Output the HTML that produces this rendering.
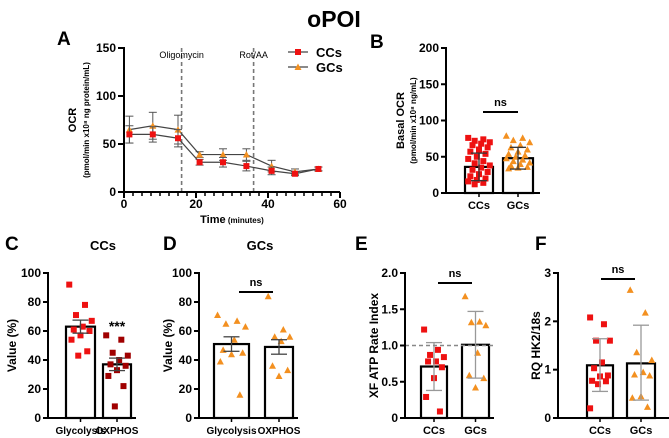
<!DOCTYPE html>
<html><head><meta charset="utf-8"><style>
body{margin:0;background:#fff}
svg{display:block;font-family:"Liberation Sans",Arial,sans-serif}
</style></head><body>
<svg id="fig" width="669" height="438" viewBox="0 0 669 438">
<text x="334" y="27" text-anchor="middle" font-size="23" font-weight="bold">oPOI</text>
</svg>
<script>
// Panel A data
const aTimes=[1.5,8,15,21,27.5,34,41,47.5,54];
const aCC=[60,60,56,31,31,27,22,19,24];
const aCCerr=[9,8,9,3,5,5,4,2,2];
const aGC=[65,69,65,39,39,39,27,21,24];
const aGCerr=[14,14,15,3,6,6,6,3,2];
const aXTicks=[0,20,40,60];
const aYTicks=[0,50,100,150];
// Panel B
const bCats=['CCs','GCs'];
const bMeans=[36,48];
const bSD=[19,15];
const bCCpts=[76,74,72,70,68,66,63,60,57,54,50,47,44,41,38,35,32,29,26,23,20,18,16,14,12];
const bGCpts=[79,76,73,70,66,63,60,57,54,52,50,48,46,44,42,40,38,36,35,34];
const bYTicks=[0,50,100,150,200];
// Panel C
const cCats=['Glycolysis','OXPHOS'];
const cMeans=[63,37];
const cSEM=[4.5,4.3];
const cGly=[92,78,71,67,63,61,60,57,54,46,43];
const cOx=[57,54,45,43,40,37,36,33,29,22,8];
// Panel D
const dMeans=[51,49];
const dSEM=[5,5];
const dGly=[71,67,65,63,54,47,45,44,39,16];
const dOx=[84,61,56,56,53,36,33,29];
const pctTicks=[0,20,40,60,80,100];
// Panel E
const eMeans=[0.71,1.01];
const eLo=[0.38,0.55];
const eHi=[1.04,1.47];
const eCC=[1.22,0.94,0.87,0.84,0.78,0.78,0.70,0.55,0.29,0.09];
const eGC=[1.68,1.33,1.32,1.28,0.90,0.59,0.55,0.42];
const eTicks=[0,0.5,1.0,1.5,2.0];
const eTickLabels=['0','0.5','1.0','1.5','2.0'];
// Panel F
const fMeans=[1.09,1.13];
const fLo=[0.55,0.37];
const fHi=[1.64,1.92];
const fCC=[2.08,1.94,1.6,1.6,1.15,1.03,0.88,0.86,0.77,0.76,0.70,0.20];
const fGC=[2.65,2.18,1.36,1.2,0.95,0.9,0.88,0.45,0.42,0.23];
const fTicks=[0,1,2,3];

const svg=document.getElementById('fig');
const NS='http://www.w3.org/2000/svg';
function el(tag,attrs,parent,text){const e=document.createElementNS(NS,tag);for(const k in attrs)e.setAttribute(k,attrs[k]);if(text!==undefined)e.textContent=text;(parent||svg).appendChild(e);return e;}
function line(x1,y1,x2,y2,stroke,w,g,dash){const l=el('line',{x1,y1,x2,y2,stroke,'stroke-width':w},g);if(dash)l.setAttribute('stroke-dasharray',dash);return l;}
function sq(g,x,y,c){return el('rect',{x:x-3,y:y-3,width:6,height:6,fill:c},g);}
function tri(g,x,y,c){return el('polygon',{points:`${x},${y-3.5} ${x+3.5},${y+3} ${x-3.5},${y+3}`,fill:c},g);}
function text(g,x,y,s,size,anchor,bold,rot){const t=el('text',{x,y,'font-size':size,'text-anchor':anchor||'middle','font-weight':bold?'bold':'normal'},g,s);if(rot)t.setAttribute('transform',`rotate(-90 ${x} ${y})`);return t;}
function group(name){const g=el('g',{},svg);return g;}

function barPanel(o){
  const g=group(o.name);
  const ys=v=>o.y0-(v-o.min)/(o.max-o.min)*(o.y0-o.y1);
  text(g,o.letterX,o.letterY,o.letter,19,'start',true);
  if(o.title)text(g,o.titleX,250,o.title,13,'middle',true);
  o.bars.forEach((b,i)=>{
    const r=el('rect',{x:b[0],y:ys(o.means[i]),width:b[1]-b[0],height:o.y0-ys(o.means[i]),fill:'#fff',stroke:'#000','stroke-width':2.2},g);
    
    
  });
  o.points.forEach((pts,i)=>{
    const cx=(o.bars[i][0]+o.bars[i][1])/2, hw=(o.bars[i][1]-o.bars[i][0])/2-2;
    pts.forEach((v,j)=>{
      const off=((j*7)%11/10-0.5)*2*hw*0.9;
      const m=o.shapes[i](g,cx+off,ys(v),o.colors[i]);
      
      
    });
  });
  o.bars.forEach((b,i)=>{
    const cx=(b[0]+b[1])/2, lo=ys(o.lo[i]), hi=ys(o.hi[i]);
    line(cx,lo,cx,hi,o.errColor,1.3,g);
    line(cx-8,lo,cx+8,lo,o.errColor,1.3,g);line(cx-8,hi,cx+8,hi,o.errColor,1.3,g);
  });
  if(o.dash!==undefined)line(o.ax,ys(o.dash),o.axEnd,ys(o.dash),'#888',1.6,g,'4,3');
  line(o.ax,o.y1-1,o.ax,o.y0+1,'#000',2,g);
  line(o.ax-1,o.y0,o.axEnd,o.y0,'#000',2,g);
  o.ticks.forEach((t,i)=>{const y=ys(t);line(o.ax-5,y,o.ax,y,'#000',2,g);text(g,o.ax-7,y+4,o.tickLabels?o.tickLabels[i]:String(t),12,'end',true);});
  o.bars.forEach((b,i)=>{const cx=(b[0]+b[1])/2;line(cx,o.y0,cx,o.y0+4,'#000',1.5,g);text(g,cx,o.y0+16,o.cats[i],o.catSize||11,'middle',true);});
  if(o.ns){line(o.ns[0],o.ns[2],o.ns[1],o.ns[2],'#000',2,g);text(g,(o.ns[0]+o.ns[1])/2,o.ns[2]-6,'ns',11,'middle',true);}
  if(o.stars)text(g,o.stars[0],o.stars[1],'***',14,'middle',true);
  o.ylab.forEach(l=>text(g,l[0],(o.y0+o.y1)/2,l[1],l[2],'middle',true,true));
}

(function(){
  const g=group('panel-a-ocr-timecourse');
  const X=t=>124+t*3.6, Y=v=>192-v*0.96;
  text(g,57,45,'A',19,'start',true);
  line(X(16),Y(150),X(16),Y(0),'#777',1.6,g,'4,3');
  line(X(36),Y(150),X(36),Y(0),'#777',1.6,g,'4,3');
  text(g,X(16),58,'Oligomycin',9,'middle',false);
  text(g,X(36),58,'Rot/AA',9,'middle',false);
  [[aGC,aGCerr,'#f39020',tri,'gcs'],[aCC,aCCerr,'#ee1111',sq,'ccs']].forEach(s=>{
    aTimes.forEach((t,i)=>{const x=X(t);line(x,Y(s[0][i]-s[1][i]),x,Y(s[0][i]+s[1][i]),'#555',1,g);line(x-4,Y(s[0][i]-s[1][i]),x+4,Y(s[0][i]-s[1][i]),'#555',1,g);line(x-4,Y(s[0][i]+s[1][i]),x+4,Y(s[0][i]+s[1][i]),'#555',1,g);});
    const p=el('polyline',{points:aTimes.map((t,i)=>X(t)+','+Y(s[0][i])).join(' '),fill:'none',stroke:'#444','stroke-width':1.2},g);
    
    
    aTimes.forEach((t,i)=>{const m=s[3](g,X(t),Y(s[0][i]),s[2]);});
  });
  line(124,Y(150)-1,124,Y(0)+1,'#000',2,g);
  line(123,Y(0),X(60),Y(0),'#000',2,g);
  aYTicks.forEach(t=>{line(118,Y(t),124,Y(t),'#000',2,g);text(g,116,Y(t)+4,String(t),12,'end',true);});
  for(let t=0;t<=60;t+=2.5){const maj=aXTicks.includes(t);line(X(t),Y(0),X(t),Y(0)+(maj?6:4),'#000',maj?2:1.5,g);}
  aXTicks.forEach(t=>text(g,X(t),208,String(t),12,'middle',true));
  const tt=text(g,X(30),223,'Time',11,'middle',true);
  el('tspan',{'font-size':8,'font-weight':'bold'},tt,' (minutes)');
  text(g,76,120,'OCR',11,'middle',true,true);
  text(g,89,120,'(pmol/min x10\u2078 ng protein/mL)',8,'middle',true,true);
  const lg=group('legend');
  line(288,52,308,52,'#444',1.2,lg);sq(lg,298,52,'#ee1111');text(lg,316,57,'CCs',13,'start',true);
  line(288,67,308,67,'#444',1.2,lg);tri(lg,298,67,'#f39020');text(lg,316,72,'GCs',13,'start',true);
})();

barPanel({name:'panel-b-basal-ocr',letter:'B',letterX:370,letterY:48,ax:446,axEnd:540,y0:193,y1:48,min:0,max:200,
  cats:bCats,means:bMeans,lo:bMeans.map((m,i)=>m-bSD[i]),hi:bMeans.map((m,i)=>m+bSD[i]),bars:[[465,493],[503,533]],
  points:[bCCpts,bGCpts],shapes:[sq,tri],colors:['#ee1111','#f39020'],errColor:'#333',ticks:bYTicks,
  ns:[483,518,112],ylab:[[404,'Basal OCR',11],[416,'(pmol/min x10\u2078 ng/mL)',8]]});

barPanel({name:'panel-c-ccs',letter:'C',letterX:5,letterY:250,title:'CCs',titleX:103,ax:48,axEnd:136,y0:418,y1:273,min:0,max:100,
  cats:cCats,means:cMeans,lo:cMeans.map((m,i)=>m-cSEM[i]),hi:cMeans.map((m,i)=>m+cSEM[i]),bars:[[66,95],[103,131]],catSize:10,
  points:[cGly,cOx],shapes:[sq,sq],colors:['#ee1111','#a00000'],errColor:'#444',ticks:pctTicks,
  stars:[117,331],ylab:[[16,'Value (%)',12]]});

barPanel({name:'panel-d-gcs',letter:'D',letterX:163,letterY:250,title:'GCs',titleX:260,ax:199,axEnd:298,y0:418,y1:273,min:0,max:100,
  cats:cCats,means:dMeans,lo:dMeans.map((m,i)=>m-dSEM[i]),hi:dMeans.map((m,i)=>m+dSEM[i]),bars:[[214,249],[265,293]],catSize:10,
  points:[dGly,dOx],shapes:[tri,tri],colors:['#f39020','#f39020'],errColor:'#444',ticks:pctTicks,
  ns:[239,273,292],ylab:[[172,'Value (%)',12]]});

barPanel({name:'panel-e-atp-rate-index',letter:'E',letterX:355,letterY:250,ax:405,axEnd:494,y0:418,y1:273,min:0,max:2,
  cats:bCats,means:eMeans,lo:eLo,hi:eHi,bars:[[421,447],[462,489]],
  points:[eCC,eGC],shapes:[sq,tri],colors:['#ee1111','#f39020'],errColor:'#999',ticks:eTicks,tickLabels:eTickLabels,dash:1.0,
  ns:[438,472,283],ylab:[[378,'XF ATP Rate Index',12]]});

barPanel({name:'panel-f-hk2',letter:'F',letterX:535,letterY:250,ax:558,axEnd:669,y0:418,y1:273,min:0,max:3,
  cats:bCats,means:fMeans,lo:fLo,hi:fHi,bars:[[587,613],[627,655]],
  points:[fCC,fGC],shapes:[sq,tri],colors:['#ee1111','#f39020'],errColor:'#999',ticks:fTicks,
  ns:[601,635,279],ylab:[[540,'RQ HK2/18s',12]]});
</script>
</body></html>
